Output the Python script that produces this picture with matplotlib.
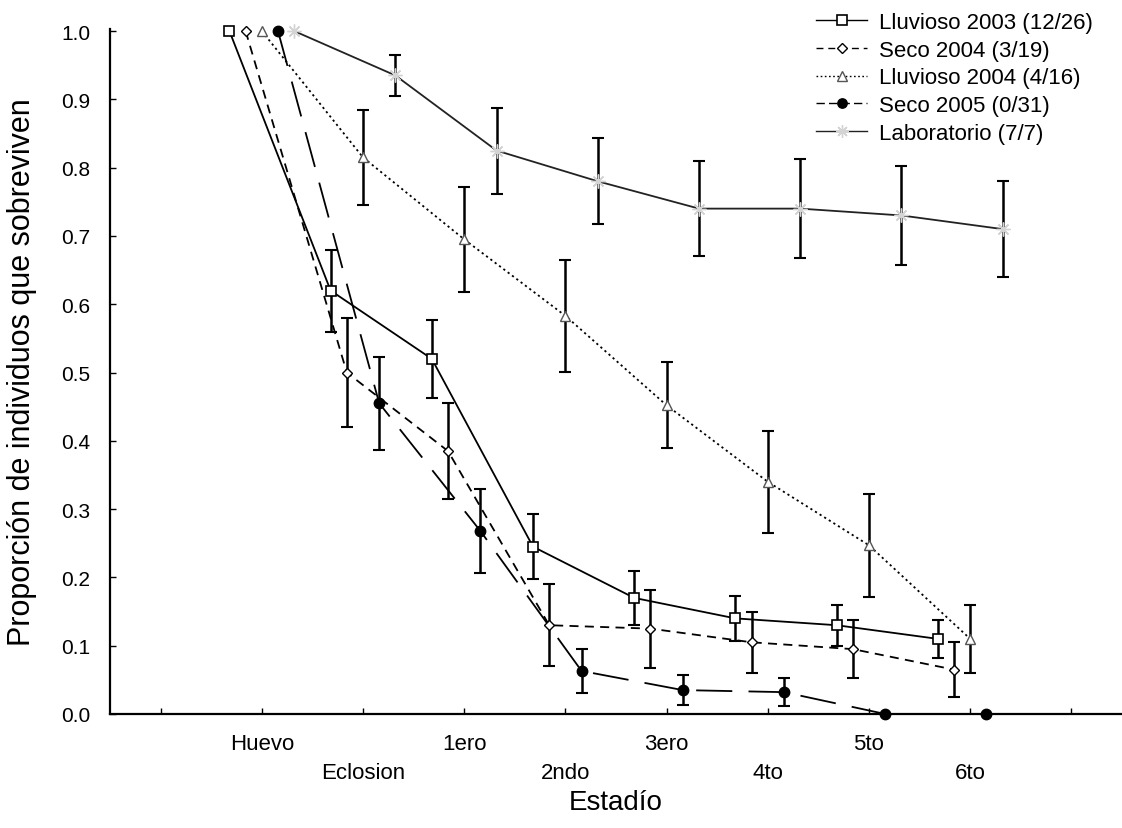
import numpy as np
import matplotlib
matplotlib.use("Agg")
import matplotlib.pyplot as plt
from matplotlib.lines import Line2D

plt.rcParams['font.family'] = ['Liberation Sans', 'DejaVu Sans']

# Life stages on the x axis
categories = ['Huevo', 'Eclosion', '1ero', '2ndo', '3ero', '4to', '5to', '6to']

# Proportion surviving at each stage, with error half-widths
lluvioso_2003 = [1.0, 0.62, 0.52, 0.245, 0.17, 0.14, 0.13, 0.11]
lluvioso_2003_err = [0.0, 0.06, 0.057, 0.048, 0.04, 0.033, 0.03, 0.028]

seco_2004 = [1.0, 0.50, 0.385, 0.13, 0.125, 0.105, 0.095, 0.065]
seco_2004_err = [0.0, 0.08, 0.07, 0.06, 0.057, 0.045, 0.042, 0.04]

lluvioso_2004 = [1.0, 0.815, 0.695, 0.583, 0.452, 0.34, 0.247, 0.11]
lluvioso_2004_err = [0.0, 0.07, 0.077, 0.082, 0.063, 0.075, 0.075, 0.05]

seco_2005 = [1.0, 0.455, 0.268, 0.063, 0.035, 0.032, 0.0, 0.0]
seco_2005_err = [0.0, 0.068, 0.062, 0.032, 0.022, 0.02, 0.0, 0.0]

laboratorio = [1.0, 0.935, 0.825, 0.78, 0.74, 0.74, 0.73, 0.71]
laboratorio_err = [0.0, 0.03, 0.063, 0.063, 0.07, 0.072, 0.072, 0.07]

series_labels = ['Lluvioso 2003 (12/26)', 'Seco 2004 (3/19)', 'Lluvioso 2004 (4/16)',
                 'Seco 2005 (0/31)', 'Laboratorio (7/7)']

fig = plt.figure(figsize=(11.22, 8.29), dpi=100)
ax = fig.add_axes([110 / 1122, 114 / 829, 1012 / 1122, 685 / 829])

base = np.arange(1, len(categories) + 1)

styles = [
    dict(vals=lluvioso_2003, err=lluvioso_2003_err, shift=-0.32, ls='-', marker='s',
         mfc='white', mec='black', ms=7.5, lw=1.3, color='black', mew=1.2),
    dict(vals=seco_2004, err=seco_2004_err, shift=-0.16, ls=(0, (5, 3.5)), marker='D',
         mfc='white', mec='black', ms=5.5, lw=1.3, color='black', mew=1.0),
    dict(vals=lluvioso_2004, err=lluvioso_2004_err, shift=0.0, ls=(0, (1.2, 1.8)), marker='^',
         mfc='white', mec='#555555', ms=7.5, lw=1.3, color='black', mew=1.0),
    dict(vals=seco_2005, err=seco_2005_err, shift=0.16, ls=(0, (20, 9)), marker='o',
         mfc='black', mec='black', ms=7.5, lw=1.3, color='black', mew=1.0),
    dict(vals=laboratorio, err=laboratorio_err, shift=0.32, ls='-', marker=(8, 2, 0),
         mfc='#d4d4d4', mec='#d4d4d4', ms=10, lw=1.3, color='#222222', mew=1.0),
]

handles = []
for st, lab in zip(styles, series_labels):
    x = base + st['shift']
    y = np.array(st['vals'])
    e = np.array(st['err'])
    ax.plot(x, y, ls=st['ls'], color=st['color'], lw=st['lw'], zorder=2, clip_on=False)
    mask = e > 0
    ax.errorbar(x[mask], y[mask], yerr=e[mask], fmt='none', ecolor='black',
                elinewidth=1.8, capsize=4, capthick=1.5, zorder=3, clip_on=False)
    ax.plot(x, y, ls='none', marker=st['marker'], mfc=st['mfc'], mec=st['mec'],
            ms=st['ms'], mew=st['mew'], zorder=4, clip_on=False)
    handles.append(Line2D([], [], ls=st['ls'] if st['ls'] != (0, (20, 9)) else (0, (6, 3)),
                          color=st['color'], lw=1.0,
                          marker=st['marker'], mfc=st['mfc'], mec=st['mec'],
                          ms=st['ms'] * 0.9, mew=st['mew']))

ax.set_xlim(-0.5, 9.5)
ax.set_ylim(0, 1.003)

ax.spines['top'].set_visible(False)
ax.spines['right'].set_visible(False)
ax.spines['left'].set_linewidth(1.6)
ax.spines['bottom'].set_linewidth(1.6)

ax.set_yticks(np.arange(0, 1.01, 0.1))
ax.set_yticklabels([f'{v:.1f}' for v in np.arange(0, 1.01, 0.1)], fontsize=15)

tick_labels = [''] + [c if i % 2 == 0 else '\n' + c for i, c in enumerate(categories)] + ['']
ax.set_xticks(np.arange(0, 10))
ax.set_xticklabels(tick_labels, fontsize=16, linespacing=1.5)

ax.tick_params(axis='both', direction='in', length=4, width=1.0)
ax.tick_params(axis='y', pad=14)
ax.tick_params(axis='x', pad=14)

ax.set_ylabel('Proporción de individuos que sobreviven', fontsize=22)
ax.yaxis.set_label_coords(-0.072, 0.5)
ax.set_xlabel('Estadío', fontsize=20)
ax.xaxis.set_label_coords(0.5, -0.11)

fig.legend(handles, series_labels, loc='upper left', bbox_to_anchor=(805 / 1122, 1 - 2 / 829),
           frameon=False, fontsize=16, handlelength=2.3, handletextpad=0.55,
           labelspacing=0.3, borderpad=0.0)

fig.savefig('out.png', dpi=100, facecolor='white')
